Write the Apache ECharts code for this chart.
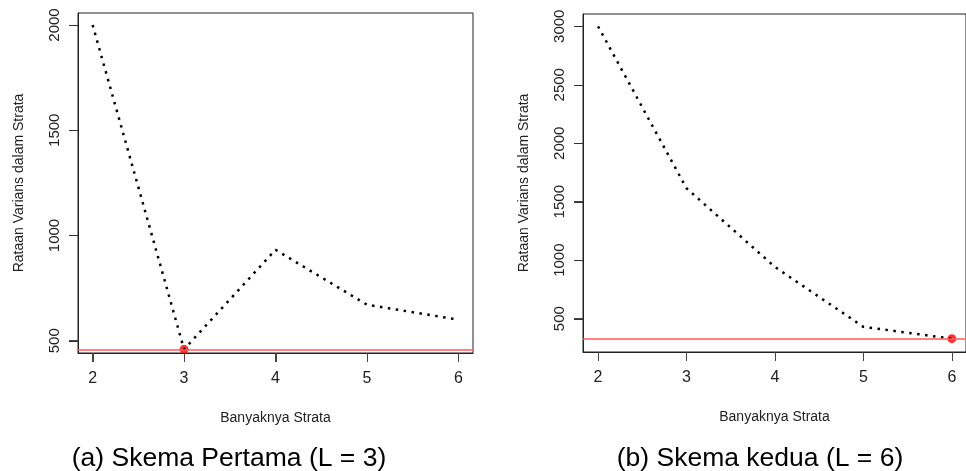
<!DOCTYPE html>
<html>
<head>
<meta charset="utf-8">
<script src="https://cdn.jsdelivr.net/npm/echarts@6/dist/echarts.min.js"></script>
<style>
  html, body { margin: 0; padding: 0; background: #fff; }
  #chart { width: 966px; height: 471px; }
</style>
</head>
<body>
<div id="chart"></div>
<script>
const strata = [2, 3, 4, 5, 6];
const varA = [2000, 459, 932, 671, 600];
const varB = [3000, 1615, 942, 430, 329];
const bestA = [3, 459];
const bestB = [6, 329];
const xTicks = [2, 3, 4, 5, 6];
const yTicksA = [500, 1000, 1500, 2000];
const yTicksB = [500, 1000, 1500, 2000, 2500, 3000];
const captions = ["(a) Skema Pertama (L = 3)", "(b) Skema kedua (L = 6)"];

const font = "Liberation Sans, Arial, sans-serif";
const myEcharts = echarts.init(document.getElementById("chart"));

// axis ranges, padded like R's default 4%
const ranges = [
  { x: [1.84, 6.16], y: [441.6, 2057] },
  { x: [1.83, 6.16], y: [215, 3105] },
];

const makeX = (idx) => ({
  type: "value",
  gridIndex: idx,
  min: ranges[idx].x[0],
  max: ranges[idx].x[1],
  name: "Banyaknya Strata",
  nameLocation: "middle",
  nameGap: 58,
  nameTextStyle: { fontFamily: font, fontSize: 14, color: "#222" },
  splitLine: { show: false },
  axisLine: { show: true, onZero: false, lineStyle: { color: "#222", width: 1 } },
  axisTick: { show: true, length: 9, customValues: xTicks, lineStyle: { color: "#444", width: 1 } },
  axisLabel: {
    customValues: xTicks,
    margin: 18,
    fontFamily: font,
    fontSize: 16,
    color: "#222",
    formatter: (v) => String(v),
  },
});

const makeY = (idx, ticks) => ({
  type: "value",
  gridIndex: idx,
  min: ranges[idx].y[0],
  max: ranges[idx].y[1],
  name: "Rataan Varians dalam Strata",
  nameLocation: "middle",
  nameGap: 52,
  nameTextStyle: { fontFamily: font, fontSize: 14, color: "#222" },
  splitLine: { show: false },
  axisLine: { show: true, onZero: false, lineStyle: { color: "#222", width: 1 } },
  axisTick: { show: true, length: 9, customValues: ticks, lineStyle: { color: "#444", width: 1 } },
  axisLabel: {
    customValues: ticks,
    rotate: 90,
    margin: 16,
    fontFamily: font,
    fontSize: 15,
    color: "#222",
    formatter: (v) => String(v),
  },
});

const dotted = { color: "#000", width: 2.5, type: [2.5, 5.5], cap: "butt" };

const makeSeries = (idx, data, best) => [
  {
    type: "line",
    xAxisIndex: idx,
    yAxisIndex: idx,
    data: strata.map((s, i) => [s, data[i]]),
    symbol: "none",
    lineStyle: dotted,
    silent: true,
    markLine: {
      silent: true,
      symbol: "none",
      label: { show: false },
      lineStyle: { color: "#ff5a5a", width: 1.5, type: "solid" },
      data: [{ yAxis: best[1] }],
    },
  },
  {
    type: "scatter",
    xAxisIndex: idx,
    yAxisIndex: idx,
    data: [best],
    symbol: "circle",
    symbolSize: 9,
    itemStyle: { color: "#ff0000" },
    silent: true,
  },
];

const option = {
  animation: false,
  grid: [
    { left: 78, top: 13, width: 395, height: 340, show: true, borderColor: "#222", borderWidth: 1 },
    { left: 583, top: 14, width: 392, height: 338, show: true, borderColor: "#222", borderWidth: 1 },
  ],
  xAxis: [makeX(0), makeX(1)],
  yAxis: [makeY(0, yTicksA), makeY(1, yTicksB)],
  series: [...makeSeries(0, varA, bestA), ...makeSeries(1, varB, bestB)],
  graphic: [
    { id: "capA", type: "text", x: 229, y: 459, style: { text: captions[0], font: "26.5px " + font, fill: "#000", align: "center", verticalAlign: "middle" } },
    { id: "capB", type: "text", x: 760, y: 459, style: { text: captions[1], font: "26.5px " + font, fill: "#000", align: "center", verticalAlign: "middle" } },
  ],
};
myEcharts.setOption(option);

// outward R-style tick marks, placed through the chart's own scales
const tickLines = [];
[[0, yTicksA], [1, yTicksB]].forEach(([idx, yTicks]) => {
  const finder = { xAxisIndex: idx, yAxisIndex: idx };
  const yPix = myEcharts.convertToPixel({ yAxisIndex: idx }, ranges[idx].y[0]);
  const xPix = myEcharts.convertToPixel({ xAxisIndex: idx }, ranges[idx].x[0]);
  xTicks.forEach((v) => {
    const px = myEcharts.convertToPixel({ xAxisIndex: idx }, v);
    if (!isFinite(px) || !isFinite(yPix)) return;
    const x = Math.round(px) + 0.5;
    const y = Math.round(yPix);
    tickLines.push({
      type: "line",
      silent: true,
      z: 100,
      shape: { x1: x, y1: y, x2: x, y2: y + 9 },
      style: { stroke: "#444", lineWidth: 1 },
    });
  });
  yTicks.forEach((v) => {
    const py = myEcharts.convertToPixel({ yAxisIndex: idx }, v);
    if (!isFinite(py) || !isFinite(xPix)) return;
    const x = Math.round(xPix);
    const y = Math.round(py) + 0.5;
    tickLines.push({
      type: "line",
      silent: true,
      z: 100,
      shape: { x1: x, y1: y, x2: x - 9, y2: y },
      style: { stroke: "#333", lineWidth: 1 },
    });
  });
});
myEcharts.setOption({ graphic: option.graphic.concat(tickLines) });
</script>
</body>
</html>
